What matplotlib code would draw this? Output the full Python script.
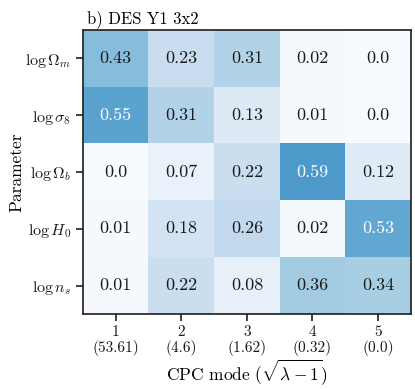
import numpy as np
import matplotlib
matplotlib.use("Agg")
import matplotlib.pyplot as plt

plt.rcParams['font.family'] = ['cmr10', 'DejaVu Serif']
plt.rcParams['mathtext.fontset'] = 'cm'
plt.rcParams['axes.formatter.use_mathtext'] = True

params = [r'$\log\Omega_m$', r'$\log\sigma_8$', r'$\log\Omega_b$', r'$\log H_0$', r'$\log n_s$']
modes = ['1', '2', '3', '4', '5']
eigvals = ['53.61', '4.6', '1.62', '0.32', '0.0']
weights = np.array([
    [0.43, 0.23, 0.31, 0.02, 0.0],
    [0.55, 0.31, 0.13, 0.01, 0.0],
    [0.0, 0.07, 0.22, 0.59, 0.12],
    [0.01, 0.18, 0.26, 0.02, 0.53],
    [0.01, 0.22, 0.08, 0.36, 0.34],
])

fig = plt.figure(figsize=(4.15, 3.89), dpi=100)
ax = fig.add_axes([0.2, 0.193, 0.79, 0.73])
ax.imshow(weights, cmap='Blues', vmin=0, vmax=1, aspect='auto')

for i in range(weights.shape[0]):
    for j in range(weights.shape[1]):
        v = weights[i, j]
        ax.text(j, i, f"{v}", ha='center', va='center', fontsize=13,
                color='white' if v > 0.5 else '#1a1a1a')

ax.set_xticks(range(len(modes)))
ax.set_xticklabels([f"{m}\n({e})" for m, e in zip(modes, eigvals)], fontsize=11, linespacing=1.05)
ax.set_yticks(range(len(params)))
ax.set_yticklabels(params, fontsize=11.5)
ax.set_xlabel(r'CPC mode ($\sqrt{\lambda - 1}$)', fontsize=12.5, labelpad=1)
ax.set_ylabel('Parameter', fontsize=12.5, labelpad=0)
ax.set_title('b) DES Y1 3x2', x=0.012, ha='left', fontsize=12, pad=5)

for s in ax.spines.values():
    s.set_color('#262626')
    s.set_linewidth(1.25)
ax.tick_params(color='#262626', width=1.25, length=5, labelcolor='#1a1a1a')

fig.savefig('out.png', dpi=100)
